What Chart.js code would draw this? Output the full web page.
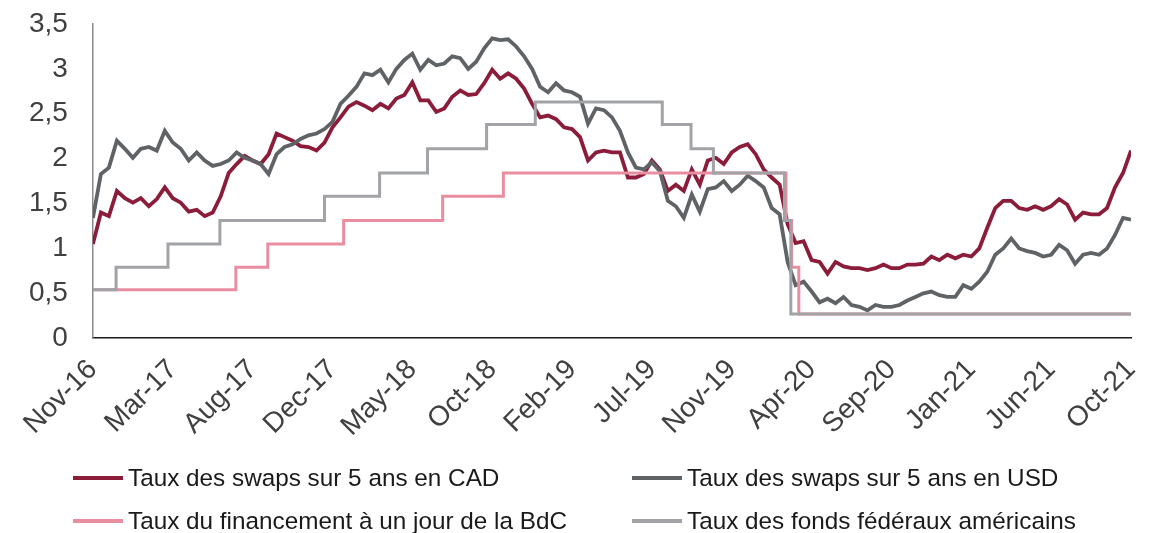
<!DOCTYPE html>
<html>
<head>
<meta charset="utf-8">
<title>Taux des swaps et taux directeurs</title>
<script src="https://cdn.jsdelivr.net/npm/chart.js@4.4.0/dist/chart.umd.min.js"></script>
<style>
  html, body { margin: 0; padding: 0; background: #fff; }
  #wrap { position: relative; width: 1152px; height: 533px; }
  #legend { position: absolute; left: 0; top: 0; width: 1152px; height: 533px; pointer-events: none;
            font-family: 'Liberation Sans', Arial, sans-serif; font-size: 24.3px; color: #1a1a1a; }
  .item { position: absolute; display: flex; align-items: center; white-space: nowrap; height: 30px; }
  .swatch { display: inline-block; width: 50px; height: 4px; margin-right: 5px; }
</style>
</head>
<body>
<div id="wrap">
  <canvas id="ratesChart" width="1152" height="533"></canvas>
  <div id="legend"></div>
</div>
<script>
// x axis: sample index, one labelled tick every 10 samples
const tickLabels = ['Nov-16', 'Mar-17', 'Aug-17', 'Dec-17', 'May-18', 'Oct-18', 'Feb-19',
                    'Jul-19', 'Nov-19', 'Apr-20', 'Sep-20', 'Jan-21', 'Jun-21', 'Oct-21'];
const samplesPerTick = 10;

// 5-year swap rates (%), sampled on the same grid
const cadSwap = [
  1.05, 1.40, 1.36, 1.64, 1.56, 1.51, 1.56, 1.47, 1.55, 1.68,
  1.56, 1.51, 1.41, 1.43, 1.36, 1.40, 1.58, 1.84, 1.94, 2.03,
  1.98, 1.94, 2.05, 2.28, 2.24, 2.20, 2.14, 2.13, 2.09, 2.18,
  2.35, 2.46, 2.58, 2.63, 2.59, 2.54, 2.61, 2.56, 2.67, 2.71,
  2.85, 2.65, 2.65, 2.52, 2.56, 2.69, 2.76, 2.71, 2.72, 2.84,
  2.99, 2.89, 2.95, 2.89, 2.78, 2.61, 2.46, 2.48, 2.44, 2.35,
  2.33, 2.24, 1.98, 2.07, 2.09, 2.07, 2.07, 1.79, 1.79, 1.83,
  1.98, 1.88, 1.64, 1.71, 1.64, 1.88, 1.71, 1.98, 2.01, 1.94,
  2.07, 2.13, 2.16, 2.05, 1.88, 1.79, 1.71, 1.27, 1.06, 1.08,
  0.87, 0.85, 0.72, 0.85, 0.80, 0.78, 0.78, 0.76, 0.78, 0.82,
  0.78, 0.78, 0.82, 0.82, 0.83, 0.91, 0.87, 0.93, 0.89, 0.93,
  0.91, 1.00, 1.23, 1.45, 1.53, 1.53, 1.45, 1.43, 1.47, 1.43,
  1.47, 1.55, 1.49, 1.32, 1.40, 1.38, 1.38, 1.45, 1.68, 1.84,
  2.09
];
const usdSwap = [
  1.34, 1.83, 1.90, 2.20, 2.11, 2.01, 2.11, 2.13, 2.09, 2.31,
  2.18, 2.11, 1.98, 2.07, 1.98, 1.92, 1.94, 1.98, 2.07, 2.01,
  1.98, 1.94, 1.83, 2.05, 2.13, 2.16, 2.22, 2.26, 2.28, 2.33,
  2.41, 2.61, 2.70, 2.80, 2.95, 2.93, 2.99, 2.85, 3.00, 3.10,
  3.17, 2.99, 3.10, 3.04, 3.06, 3.14, 3.12, 3.00, 3.08, 3.23,
  3.34, 3.32, 3.33, 3.25, 3.14, 3.00, 2.80, 2.74, 2.84, 2.76,
  2.74, 2.69, 2.39, 2.56, 2.54, 2.46, 2.31, 2.07, 1.90, 1.88,
  1.96, 1.86, 1.53, 1.47, 1.34, 1.60, 1.41, 1.66, 1.68, 1.75,
  1.64, 1.71, 1.81, 1.75, 1.68, 1.45, 1.38, 0.85, 0.59, 0.63,
  0.52, 0.40, 0.44, 0.39, 0.46, 0.37, 0.35, 0.31, 0.37, 0.35,
  0.35, 0.37, 0.42, 0.46, 0.50, 0.52, 0.48, 0.46, 0.46, 0.59,
  0.55, 0.63, 0.74, 0.93, 1.00, 1.11, 1.00, 0.97, 0.95, 0.91,
  0.93, 1.04, 0.98, 0.83, 0.93, 0.95, 0.93, 1.00, 1.15, 1.34,
  1.32
];

// policy rates: sample position of each change and the new level
const bocChangeAt = [0, 17.9, 21.9, 31.4, 43.8, 51.4, 86.8, 87.5, 88.4, 130];
const bocRate     = [0.54, 0.79, 1.05, 1.31, 1.58, 1.84, 1.31, 0.79, 0.27, 0.27];
const fedChangeAt = [0, 2.9, 9.4, 15.9, 29.0, 35.9, 41.9, 49.3, 55.4, 71.3, 74.9, 77.7, 86.6, 87.4, 130];
const fedRate     = [0.54, 0.79, 1.05, 1.31, 1.58, 1.84, 2.11, 2.38, 2.63, 2.38, 2.11, 1.84, 1.31, 0.27, 0.27];

const toPoints = (xs, ys) => ys.map((y, i) => ({ x: xs ? xs[i] : i, y: y }));

const series = [
  { label: 'Taux des swaps sur 5 ans en CAD', color: '#8c1d3a', data: toPoints(null, cadSwap), width: 3.8, stepped: false, order: 4 },
  { label: 'Taux des swaps sur 5 ans en USD', color: '#5f6366', data: toPoints(null, usdSwap), width: 3.8, stepped: false, order: 3 },
  { label: 'Taux du financement à un jour de la BdC', color: '#e98ea0', data: toPoints(bocChangeAt, bocRate), width: 3, stepped: true, order: 2 },
  { label: 'Taux des fonds fédéraux américains', color: '#a2a3a6', data: toPoints(fedChangeAt, fedRate), width: 3, stepped: true, order: 1 }
];

Chart.defaults.font.family = "'Liberation Sans', Arial, sans-serif";
Chart.defaults.color = '#404040';

// drop the automatic label overflow so the layout padding fixes the plot box
const noOverflow = scale => {
  scale.paddingTop = 0;
  scale.paddingBottom = 0;
  scale.paddingLeft = 0;
  scale.paddingRight = 0;
};

const ctx = document.getElementById('ratesChart').getContext('2d');
new Chart(ctx, {
  type: 'line',
  data: {
    datasets: series.map(s => ({
      label: s.label,
      data: s.data,
      borderColor: s.color,
      backgroundColor: s.color,
      borderWidth: s.width,
      stepped: s.stepped,
      order: s.order,
      pointRadius: 0,
      tension: 0,
      fill: false
    }))
  },
  options: {
    responsive: false,
    animation: false,
    layout: { padding: { top: 24, left: 4, right: 21, bottom: 75 } },
    plugins: { legend: { display: false }, tooltip: { enabled: false } },
    scales: {
      x: {
        type: 'linear',
        min: 0,
        max: (tickLabels.length - 1) * samplesPerTick,
        grid: { display: false, drawTicks: false },
        border: { display: true, color: '#1a1a1a', width: 1.5 },
        afterFit: noOverflow,
        ticks: {
          stepSize: samplesPerTick,
          autoSkip: false,
          minRotation: 45,
          maxRotation: 45,
          padding: 15,
          font: { size: 28 },
          callback: v => tickLabels[Math.round(v / samplesPerTick)]
        }
      },
      y: {
        min: 0,
        max: 3.5,
        grid: { display: false, drawTicks: false },
        border: { display: true, color: '#8a8a8a', width: 1.5 },
        afterFit: noOverflow,
        ticks: {
          stepSize: 0.5,
          padding: 25,
          font: { size: 28 },
          callback: v => String(v).replace('.', ',')
        }
      }
    }
  }
});

// two-column legend under the plot
const legend = document.getElementById('legend');
const slots = [[73, 463], [632, 463], [73, 506], [632, 506]];
series.forEach((s, i) => {
  const item = document.createElement('div');
  item.className = 'item';
  item.style.left = slots[i][0] + 'px';
  item.style.top = slots[i][1] + 'px';
  const sw = document.createElement('span');
  sw.className = 'swatch';
  sw.style.background = s.color;
  const txt = document.createElement('span');
  txt.textContent = s.label;
  item.appendChild(sw);
  item.appendChild(txt);
  legend.appendChild(item);
});
</script>
</body>
</html>
